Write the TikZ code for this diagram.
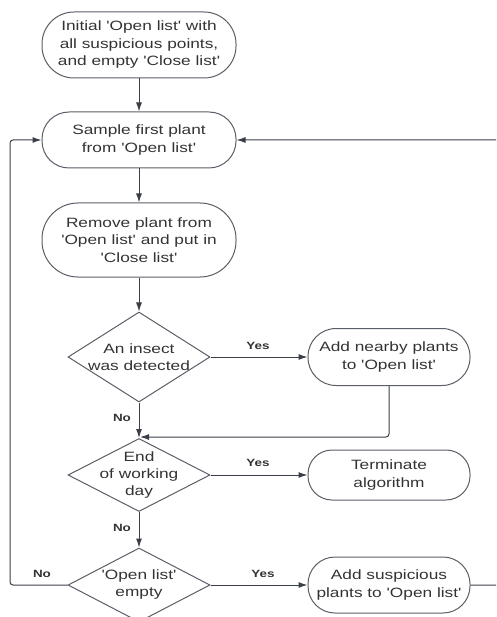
\documentclass[tikz,border=0pt]{standalone}
\usepackage{fontspec}
\setmainfont[FakeStretch=1.28, Ligatures=TeXOff]{Liberation Sans}
\usetikzlibrary{shapes.geometric,arrows.meta}
\definecolor{linec}{HTML}{3A3E47}
\definecolor{boxc}{HTML}{5A5E66}
\definecolor{txtc}{HTML}{333333}
\tikzset{
  stadium/.style={draw=boxc, line width=1pt, rectangle, inner sep=0pt, align=center,
    text=txtc, font=\fontsize{13.5}{17.5}\selectfont},
  dia/.style={draw=boxc, line width=1pt, diamond, inner sep=0pt, minimum width=142pt},
  diatext/.style={align=center, text=txtc, font=\fontsize{13.5}{17}\selectfont},
  conn/.style={draw=linec, line width=1pt, -{Latex[length=9pt,width=6pt]}},
  plain/.style={draw=linec, line width=1pt},
  lab/.style={text=txtc, font=\fontsize{10.5}{12}\selectfont\bfseries, inner sep=0pt}
}
\begin{document}
\begin{tikzpicture}[x=1pt,y=-1pt]
\useasboundingbox (0,0) rectangle (496,617);
\clip (0,0) rectangle (496,617);
\node[stadium, minimum width=194pt, minimum height=66pt, rounded corners=32pt] (n1) at (139,45)
  {Initial 'Open list' with\\all suspicious points,\\and empty 'Close list'};
\node[stadium, minimum width=194pt, minimum height=56pt, rounded corners=27pt] (n2) at (139,140)
  {Sample first plant\\from 'Open list'};
\node[stadium, minimum width=194pt, minimum height=74pt, rounded corners=36pt] (n3) at (139,240)
  {Remove plant from\\'Open list' and put in\\'Close list'};
\node[dia, minimum height=90pt, label={[diatext]center:An insect\\was detected}] (d1) at (139,357) {};
\node[stadium, minimum width=162pt, minimum height=57pt, rounded corners=28pt] (n4) at (389,357)
  {Add nearby plants\\to 'Open list'};
\node[dia, minimum height=73pt, label={[diatext]center:End\\of working\\day}] (d2) at (139,475) {};
\node[stadium, minimum width=162pt, minimum height=50pt, rounded corners=24pt] (term) at (389,475)
  {Terminate\\algorithm};
\node[dia, minimum height=74pt, label={[diatext]center:'Open list'\\empty}] (d3) at (139,585) {};
\node[stadium, minimum width=162pt, minimum height=56pt, rounded corners=27pt] (n5) at (389,585)
  {Add suspicious\\plants to 'Open list'};
\coordinate (m) at (140,437);
\coordinate (lb) at (10,585);
\coordinate (lt) at (10,140);
\coordinate (rb) at (506,585);
\coordinate (rt) at (506,140);
\draw[conn] (n1) -- (n2);
\draw[conn] (n2) -- (n3);
\draw[conn] (n3) -- (d1);
\draw[conn] (d1.east) -- (n4.west);
\draw[conn] (d1.south) -- (d2.north);
\draw[conn, rounded corners=3pt] (n4.south) |- (m);
\draw[conn] (d2.east) -- (term.west);
\draw[conn] (d2.south) -- (d3.north);
\draw[conn, rounded corners=3pt] (d3.west) -- (lb) -- (lt) -- (n2.west);
\draw[conn] (d3.east) -- (n5.west);
\draw[conn, rounded corners=3pt] (n5.east) -- (rb) -- (rt) -- (n2.east);
\node[lab] (y1) at (258,346) {Yes};
\node[lab] (no1) at (122,418) {No};
\node[lab] (y2) at (258,463) {Yes};
\node[lab] (no2) at (122,528) {No};
\node[lab] (no3) at (42,574) {No};
\node[lab] (y3) at (263,574) {Yes};
\end{tikzpicture}
\end{document}
